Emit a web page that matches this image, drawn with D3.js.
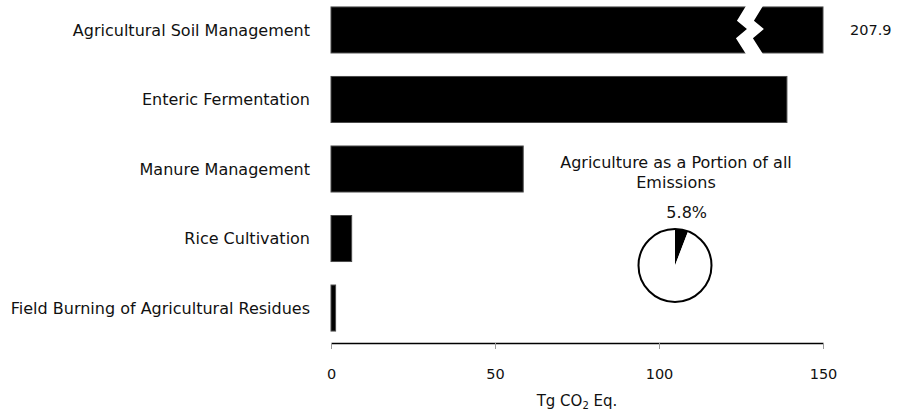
<!DOCTYPE html>
<html>
<head>
<meta charset="utf-8">
<script src="https://cdn.jsdelivr.net/npm/d3@7"></script>
<style>
  html, body { margin: 0; padding: 0; background: #fff; }
  svg { display: block; }
  text { font-family: "DejaVu Sans", Verdana, sans-serif; fill: #111; }
</style>
</head>
<body>
<svg id="chart" width="901" height="417"></svg>
<script>
// Agricultural emission sources, Tg CO2 Eq.
const categories = [
  "Agricultural Soil Management",
  "Enteric Fermentation",
  "Manure Management",
  "Rice Cultivation",
  "Field Burning of Agricultural Residues"
];
const values = [207.9, 139.0, 58.6, 6.3, 1.4];
const tickValues = [0, 50, 100, 150];
const axisMax = 150;
// Bars longer than the axis are cut with a break mark at this value
const breakAt = 126.5;

// Inset pie: share of agriculture in total emissions (%)
const pieLabels = ["Agriculture", "Other"];
const pieValues = [5.8, 94.2];
const pieTitle = ["Agriculture as a Portion of all", "Emissions"];

const svg = d3.select("#chart");
const labelSize = 16;   // category labels and inset title
const numSize = 14.5;   // tick labels and value label

const x = d3.scaleLinear().domain([0, axisMax]).range([331, 823]);
const y = d3.scaleBand().domain(categories).range([0, 338])
  .paddingInner(0.338).paddingOuter(0.1);

// Bars
const bars = svg.append("g");
bars.selectAll("rect")
  .data(categories.map((c, i) => ({ c, v: values[i] })))
  .join("rect")
  .attr("x", x(0))
  .attr("y", d => y(d.c))
  .attr("width", d => x(Math.min(d.v, axisMax)) - x(0))
  .attr("height", y.bandwidth())
  .attr("fill", "#000")
  .attr("stroke", "#4a4a4a")
  .attr("stroke-width", 1);

// Break mark and value label for bars exceeding the axis
categories.forEach((c, i) => {
  if (values[i] <= axisMax) return;
  const top = y(c) - 1, h = y.bandwidth() + 2, bx = x(breakAt);
  const zig = [[0, 0], [-9, 0.31], [1, 0.48], [-10, 0.67], [0, 1]];
  const left = zig.map(([dx, f]) => [bx + dx, top + f * h]);
  const right = zig.slice().reverse().map(([dx, f]) => [bx + dx + 17, top + f * h]);
  bars.append("path")
    .attr("d", d3.line()(left.concat(right)) + "Z")
    .attr("fill", "#fff");
  svg.append("text")
    .attr("x", x(axisMax) + 27)
    .attr("y", y(c) + y.bandwidth() / 2)
    .attr("dy", "0.35em")
    .attr("font-size", numSize)
    .text(d3.format(".1f")(values[i]));
});

// Category labels
svg.append("g").selectAll("text")
  .data(categories)
  .join("text")
  .attr("x", 310)
  .attr("y", d => y(d) + y.bandwidth() / 2)
  .attr("dy", "0.35em")
  .attr("text-anchor", "end")
  .attr("font-size", labelSize)
  .text(d => d);

// X axis
const axisY = 343;
const ax = svg.append("g")
  .attr("transform", `translate(0,${axisY})`)
  .call(d3.axisBottom(x).tickValues(tickValues).tickSize(6).tickSizeOuter(0).tickPadding(20));
ax.select(".domain").attr("stroke", "#000").attr("stroke-width", 1.5);
ax.selectAll(".tick line").attr("stroke", "#999");
ax.selectAll(".tick text")
  .attr("font-size", numSize)
  .attr("font-family", "DejaVu Sans, sans-serif")
  .attr("fill", "#111");

const title = svg.append("text")
  .attr("x", (x(0) + x(axisMax)) / 2)
  .attr("y", 406)
  .attr("text-anchor", "middle")
  .attr("font-size", 15);
title.append("tspan").text("Tg CO");
title.append("tspan").attr("font-size", 10).attr("dy", 3).text("2");
title.append("tspan").attr("dy", -3).text(" Eq.");

// Inset pie
const cx = 675, cy = 265.5, r = 36.5;
const pie = d3.pie().sort(null).value(d => d)(pieValues);
const arc = d3.arc().innerRadius(0).outerRadius(r);
const pg = svg.append("g").attr("transform", `translate(${cx},${cy})`);
pg.selectAll("path")
  .data(pie)
  .join("path")
  .attr("d", arc)
  .attr("fill", (d, i) => i === 0 ? "#000" : "#fff");
pg.append("circle").attr("r", r).attr("fill", "none")
  .attr("stroke", "#000").attr("stroke-width", 2);

const labelArc = d3.arc().innerRadius(r + 17).outerRadius(r + 17);
const lc = labelArc.centroid(pie[0]);
pg.append("text")
  .attr("transform", `translate(${lc[0] + 2},${lc[1]})`)
  .attr("text-anchor", "middle")
  .attr("dy", "0.35em")
  .attr("font-size", 16)
  .text(pieValues[0] + "%");

svg.append("g").selectAll("text")
  .data(pieTitle)
  .join("text")
  .attr("x", 676)
  .attr("y", (d, i) => 162 + i * 20)
  .attr("dy", "0.35em")
  .attr("text-anchor", "middle")
  .attr("font-size", labelSize)
  .text(d => d);
</script>
</body>
</html>
